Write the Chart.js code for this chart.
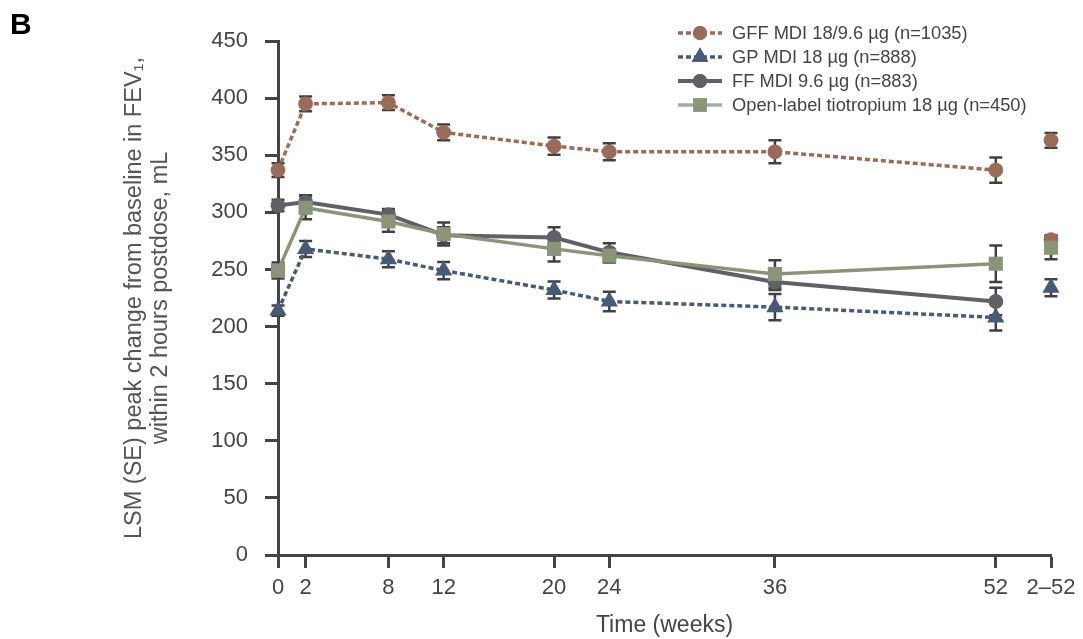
<!DOCTYPE html>
<html><head><meta charset="utf-8">
<script src="https://cdn.jsdelivr.net/npm/chart.js@4.4.1/dist/chart.umd.min.js"></script>
<style>html,body{margin:0;padding:0;background:#fff}#wrap{width:1083px;height:639px;position:relative}</style>
</head><body><div id="wrap"><canvas id="c" width="1083" height="639"></canvas></div>
<script>
// ---- data ----
const weeks = [0, 2, 8, 12, 20, 24, 36, 52];
const overallWeek = [56];
const xTickValues = [0, 2, 8, 12, 20, 24, 36, 52, 56];
const xTickLabels = ['0', '2', '8', '12', '20', '24', '36', '52', '2–52'];
const yTickValues = [0, 50, 100, 150, 200, 250, 300, 350, 400, 450];

const seriesLabels = ['GFF MDI 18/9.6 µg (n=1035)', 'GP MDI 18 µg (n=888)', 'FF MDI 9.6 µg (n=883)', 'Open-label tiotropium 18 µg (n=450)'];

const gffMean = [337, 395, 396, 370, 358, 353, 353, 337];
const gffSE   = [6, 6.5, 6.5, 7, 7.5, 7.5, 10, 11];
const gffOverall = [363];
const gffOverallSE = [6.5];

const gpMean = [214, 268, 259, 249, 232, 222, 217, 208];
const gpSE   = [4.5, 7, 7, 7.5, 7.5, 8.5, 11.5, 11.5];
const gpOverall = [234];
const gpOverallSE = [7.5];

const ffMean = [306, 309, 298, 280, 278, 265, 239, 222];
const ffSE   = [5, 6, 5, 7, 9, 8, 7, 12];
const ffOverall = [276];
const ffOverallSE = [4];

const olMean = [249, 304, 292, 281, 268, 262, 246, 255];
const olSE   = [7, 10, 9, 10, 11, 6, 12, 16];
const olOverall = [269];
const olOverallSE = [10];

// ---- styles ----
const C_GFF = '#9a6b58', C_GP = '#475a76', C_FF = '#5e6166', C_OL = '#8b9478', C_OL_LEG = '#a8a8a8';
const ERR = '#404040';

function pts(xs, ys, se) { return xs.map((x, i) => ({ x: x, y: ys[i], se: se[i] })); }

const styles = [
  { color: C_GFF, legLine: C_GFF, dash: [5, 3], width: 3.5, point: 'circle', r: 7.4 },
  { color: C_GP, legLine: C_GP, dash: [5, 3], width: 3.5, point: 'triangle', r: 10 },
  { color: C_FF, legLine: C_FF, dash: [], width: 4, point: 'circle', r: 7.4 },
  { color: C_OL, legLine: C_OL_LEG, dash: [], width: 3.5, point: 'rect', r: 10 }
];
const means = [gffMean, gpMean, ffMean, olMean];
const ses = [gffSE, gpSE, ffSE, olSE];
const overalls = [gffOverall, gpOverall, ffOverall, olOverall];
const overallSEs = [gffOverallSE, gpOverallSE, ffOverallSE, olOverallSE];
const orders = [4, 3, 2, 1];
const overallColors = [C_GFF, C_GP, C_GFF, C_OL];

const datasets = [];
for (let i = 0; i < 4; i++) {
  const s = styles[i];
  datasets.push({
    label: seriesLabels[i], data: pts(weeks, means[i], ses[i]), order: orders[i] * 2, clip: false,
    borderColor: s.color, backgroundColor: s.color, borderWidth: s.width, borderDash: s.dash,
    pointStyle: s.point, pointRadius: s.r, pointBackgroundColor: s.color, pointBorderColor: s.color,
    pointBorderWidth: 0, pointHoverRadius: s.r, tension: 0, showLine: true, isMain: true
  });
}
for (let i = 0; i < 4; i++) {
  const s = styles[i];
  datasets.push({
    label: seriesLabels[i] + ' overall', data: pts(overallWeek, overalls[i], overallSEs[i]), order: orders[i] * 2 - 1, clip: false,
    borderColor: overallColors[i], backgroundColor: overallColors[i], showLine: false,
    pointStyle: s.point, pointRadius: s.r, pointBackgroundColor: overallColors[i], pointBorderColor: overallColors[i],
    pointBorderWidth: 0, isMain: false
  });
}

const FONT = "'Liberation Sans', Arial, Helvetica, sans-serif";

const errorBars = {
  id: 'errorBars',
  beforeDatasetsDraw(chart) {
    const ctx = chart.ctx, ys = chart.scales.y, xs = chart.scales.x;
    ctx.save();
    ctx.strokeStyle = ERR; ctx.lineWidth = 2.5; ctx.setLineDash([]);
    chart.data.datasets.forEach(ds => {
      ds.data.forEach(p => {
        const px = xs.getPixelForValue(p.x);
        const top = ys.getPixelForValue(p.y + p.se), bot = ys.getPixelForValue(p.y - p.se);
        ctx.beginPath();
        ctx.moveTo(px, top); ctx.lineTo(px, bot);
        ctx.moveTo(px - 6.5, top); ctx.lineTo(px + 6.5, top);
        ctx.moveTo(px - 6.5, bot); ctx.lineTo(px + 6.5, bot);
        ctx.stroke();
      });
    });
    ctx.restore();
  }
};

const extras = {
  id: 'extras',
  afterDraw(chart) {
    const ctx = chart.ctx;
    ctx.save();
    // panel letter
    ctx.fillStyle = '#000'; ctx.font = 'bold 30px ' + FONT; ctx.textBaseline = 'alphabetic'; ctx.textAlign = 'left';
    ctx.fillText('B', 10, 34);
    // legend
    const rows = [33, 57, 81, 105];
    const mains = chart.data.datasets.filter(d => d.isMain);
    mains.forEach((ds, i) => {
      const s = styles[i], y = rows[i];
      ctx.strokeStyle = s.legLine; ctx.lineWidth = s.width; ctx.setLineDash(s.dash);
      ctx.beginPath(); ctx.moveTo(678, y); ctx.lineTo(722, y); ctx.stroke();
      ctx.setLineDash([]);
      ctx.fillStyle = s.color;
      Chart.helpers.drawPoint(ctx, { pointStyle: s.point, radius: s.r * 0.95, borderWidth: 0, rotation: 0 }, 700, y);
      ctx.fill();
      ctx.fillStyle = '#444'; ctx.font = '18.3px ' + FONT; ctx.textBaseline = 'middle'; ctx.textAlign = 'left';
      ctx.fillText(ds.label, 732, y + 1);
    });
    ctx.restore();
  }
};

new Chart(document.getElementById('c'), {
  type: 'scatter',
  data: { datasets: datasets },
  options: {
    responsive: false, animation: false, devicePixelRatio: 1,
    layout: { padding: { left: 0, right: 32, top: 41, bottom: 0 } },
    plugins: { legend: { display: false }, tooltip: { enabled: false } },
    scales: {
      x: {
        type: 'linear', min: 0, max: 56,
        afterBuildTicks: sc => { sc.ticks = xTickValues.map(v => ({ value: v })); },
        afterFit: sc => { sc.height = 84; },
        ticks: { autoSkip: false, maxRotation: 0, padding: 7, color: '#444', font: { family: FONT, size: 22 },
          callback: v => xTickLabels[xTickValues.indexOf(v)] },
        grid: { drawOnChartArea: false, drawTicks: true, tickLength: 13, tickWidth: 3, color: '#444' },
        border: { display: true, color: '#444', width: 3 },
        title: { display: true, text: 'Time (weeks)', color: '#444', font: { family: FONT, size: 23, lineHeight: 1.2 }, padding: { top: 0, bottom: 0 } }
      },
      y: {
        type: 'linear', min: 0, max: 450,
        afterBuildTicks: sc => { sc.ticks = yTickValues.map(v => ({ value: v })); },
        afterFit: sc => { sc.width = 278; },
        ticks: { padding: 17, color: '#444', font: { family: FONT, size: 22 } },
        grid: { drawOnChartArea: false, drawTicks: true, tickLength: 13, tickWidth: 3, color: '#444' },
        border: { display: true, color: '#444', width: 3 },
        title: { display: true, text: ['LSM (SE) peak change from baseline in FEV₁,', 'within 2 hours postdose, mL'], color: '#555',
          font: { family: FONT, size: 23.5, lineHeight: 1.11 }, padding: { top: 121, bottom: 0 } }
      }
    }
  },
  plugins: [errorBars, extras]
});
</script></body></html>
